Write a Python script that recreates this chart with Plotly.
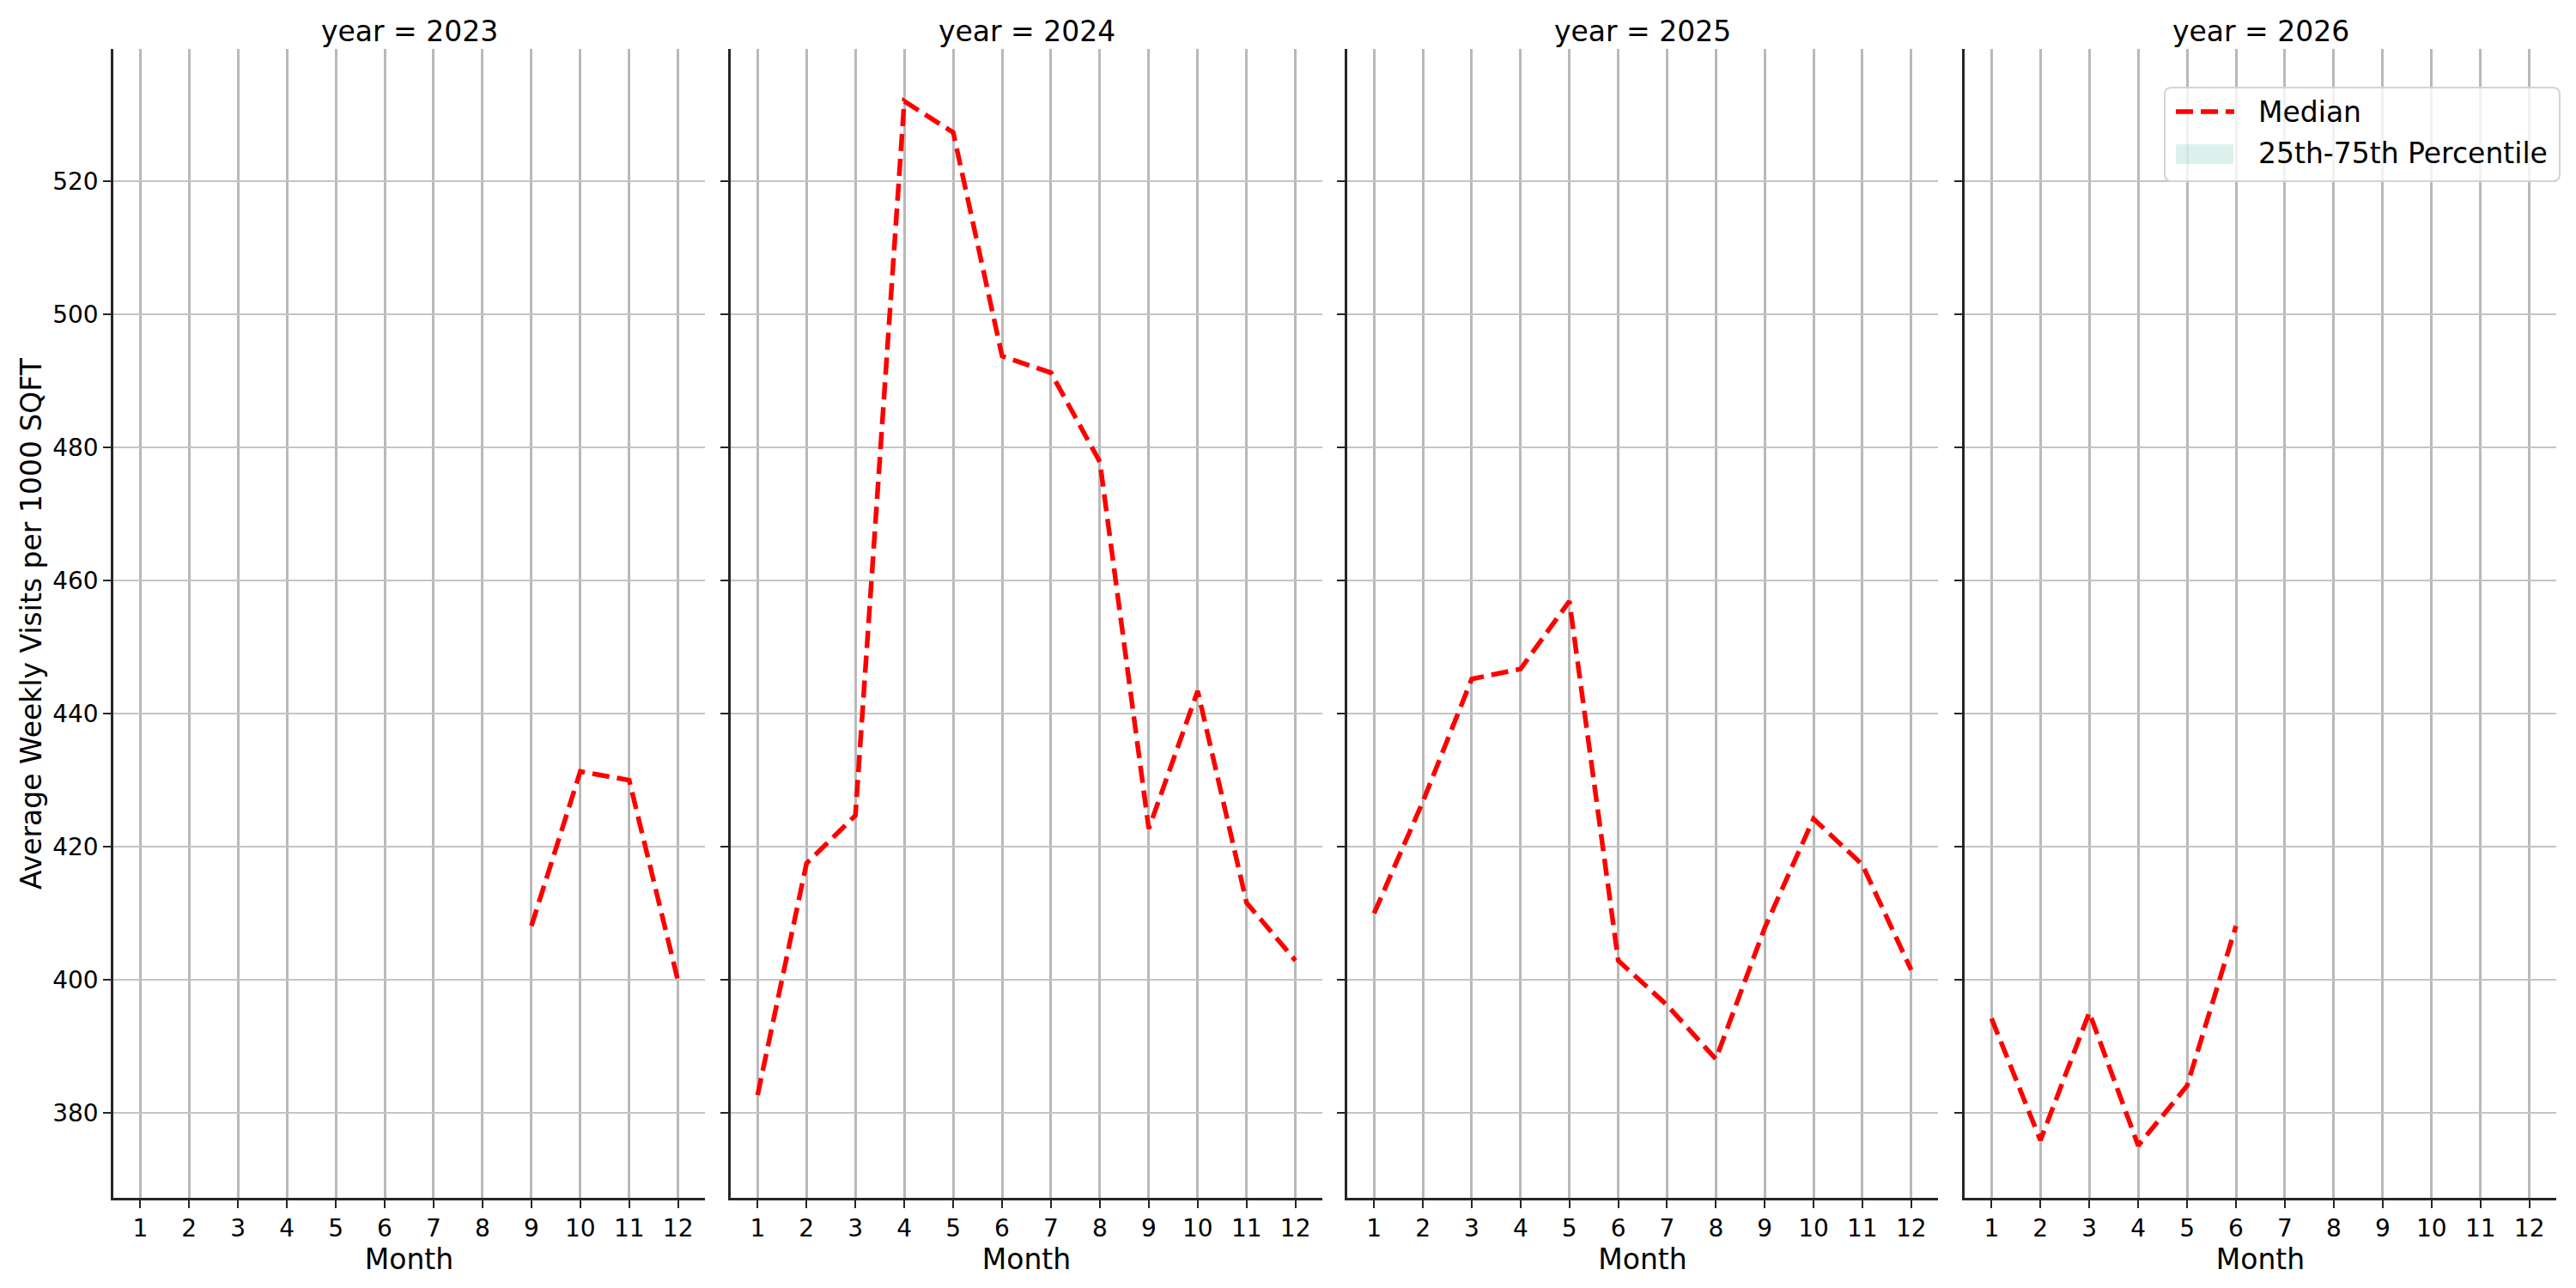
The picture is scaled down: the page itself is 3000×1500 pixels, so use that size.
import plotly.graph_objects as go

# ---- data ----
years = [2023, 2024, 2025, 2026]
months_2023 = [9, 10, 11, 12]
median_2023 = [408.1, 431.3, 430.0, 399.8]
months_2024 = [1, 2, 3, 4, 5, 6, 7, 8, 9, 10, 11, 12]
median_2024 = [382.7, 417.5, 424.7, 532.0, 527.3, 493.7, 491.2, 477.8, 422.7, 443.4, 411.6, 402.9]
months_2025 = [1, 2, 3, 4, 5, 6, 7, 8, 9, 10, 11, 12]
median_2025 = [410.0, 426.8, 445.2, 446.7, 456.9, 402.9, 396.2, 388.1, 407.8, 424.2, 417.3, 401.5]
months_2026 = [1, 2, 3, 4, 5, 6]
median_2026 = [394.2, 375.9, 395.1, 375.1, 384.1, 408.1]
month_ticks = [1, 2, 3, 4, 5, 6, 7, 8, 9, 10, 11, 12]
y_ticks = [380, 400, 420, 440, 460, 480, 500, 520]
legend_labels = ["Median", "25th-75th Percentile"]

series = {
    2023: (months_2023, median_2023),
    2024: (months_2024, median_2024),
    2025: (months_2025, median_2025),
    2026: (months_2026, median_2026),
}

W, H = 3000, 1500
FONT = "DejaVu Sans"
RED = "red"
BAND = "rgba(85,185,160,0.2)"
DASH = "20px,9px"
panels_px = [(132, 821), (851, 1540), (1569, 2257), (2288, 2977)]
top_px, bot_px = 57, 1395

def px(x):
    return x / W

def py(y):
    return 1 - y / H

fig = go.Figure()
layout = dict(
    width=W, height=H,
    margin=dict(l=0, r=0, t=0, b=0),
    paper_bgcolor="white", plot_bgcolor="white",
    font=dict(family=FONT, color="black"),
    showlegend=False,
)
annotations = []
shapes = []

allvals = median_2023 + median_2024 + median_2025 + median_2026
ymin, ymax = min(allvals), max(allvals)
pad = 0.05 * (ymax - ymin)
yrange = [ymin - pad, ymax + pad]

for i, yr in enumerate(years):
    k = "" if i == 0 else str(i + 1)
    xa, ya = "xaxis" + k, "yaxis" + k
    x0, x1 = panels_px[i]
    layout[xa] = dict(
        domain=[px(x0), px(x1)], anchor="y" + k,
        range=[0.45, 12.55], tickmode="array", tickvals=month_ticks,
        ticktext=[str(m) for m in month_ticks],
        showgrid=True, gridcolor="#b9b9b9", gridwidth=2.5,
        showline=True, linecolor="#262626", linewidth=2.5,
        ticks="outside", ticklen=9, tickwidth=2, tickcolor="#262626",
        tickfont=dict(size=28, family=FONT, color="black"),
        zeroline=False,
        title=dict(text="Month", font=dict(size=33, family=FONT), standoff=4),
    )
    layout[ya] = dict(
        domain=[py(bot_px), py(top_px)], anchor="x" + k,
        range=yrange, tickmode="array", tickvals=y_ticks,
        showticklabels=(i == 0),
        showgrid=True, gridcolor="#c4c4c4", gridwidth=2,
        showline=True, linecolor="#262626", linewidth=2.5,
        ticks="outside", ticklen=9, tickwidth=2, tickcolor="#262626",
        tickfont=dict(size=28, family=FONT, color="black"),
        zeroline=False,
    )
    if i > 0:
        layout[ya]["matches"] = "y"
    annotations.append(dict(
        text=f"year = {yr}", xref="paper", yref="paper",
        x=px((x0 + x1) / 2), y=py(37), xanchor="center", yanchor="middle",
        showarrow=False, font=dict(size=33, family=FONT, color="black"),
    ))
    mx, my = series[yr]
    fig.add_trace(go.Scatter(
        x=mx, y=my, mode="lines", name=legend_labels[0],
        line=dict(color=RED, width=5.5, dash=DASH),
        xaxis="x" + k, yaxis="y" + k, showlegend=False,
    ))

annotations.append(dict(
    text="Average Weekly Visits per 1000 SQFT", xref="paper", yref="paper",
    x=px(36), y=py(726), xanchor="center", yanchor="middle", textangle=-90,
    showarrow=False, font=dict(size=33, family=FONT, color="black"),
))

# ---- legend box (drawn like matplotlib's) ----
bx0, bx1, by0, by1, r = 2521, 2981, 102, 211, 8
path = (
    f"M {px(bx0 + r)},{py(by0)} L {px(bx1 - r)},{py(by0)} "
    f"Q {px(bx1)},{py(by0)} {px(bx1)},{py(by0 + r)} "
    f"L {px(bx1)},{py(by1 - r)} Q {px(bx1)},{py(by1)} {px(bx1 - r)},{py(by1)} "
    f"L {px(bx0 + r)},{py(by1)} Q {px(bx0)},{py(by1)} {px(bx0)},{py(by1 - r)} "
    f"L {px(bx0)},{py(by0 + r)} Q {px(bx0)},{py(by0)} {px(bx0 + r)},{py(by0)} Z"
)
shapes.append(dict(type="path", path=path, xref="paper", yref="paper",
                   fillcolor="rgba(255,255,255,0.8)",
                   line=dict(color="#d4d4d4", width=2), layer="above"))
shapes.append(dict(type="line", xref="paper", yref="paper",
                   x0=px(2534), x1=px(2602), y0=py(130), y1=py(130),
                   line=dict(color=RED, width=5.5, dash=DASH), layer="above"))
shapes.append(dict(type="rect", xref="paper", yref="paper",
                   x0=px(2534), x1=px(2601), y0=py(168), y1=py(191),
                   fillcolor=BAND, line=dict(width=0), layer="above"))
for lbl, yc in zip(legend_labels, [130, 179]):
    annotations.append(dict(
        text=lbl, xref="paper", yref="paper", x=px(2628), y=py(yc),
        xanchor="left", yanchor="middle", showarrow=False,
        font=dict(size=33, family=FONT, color="black"),
    ))

layout["annotations"] = annotations
layout["shapes"] = shapes
fig.update_layout(**layout)
fig.write_html("out.html")
